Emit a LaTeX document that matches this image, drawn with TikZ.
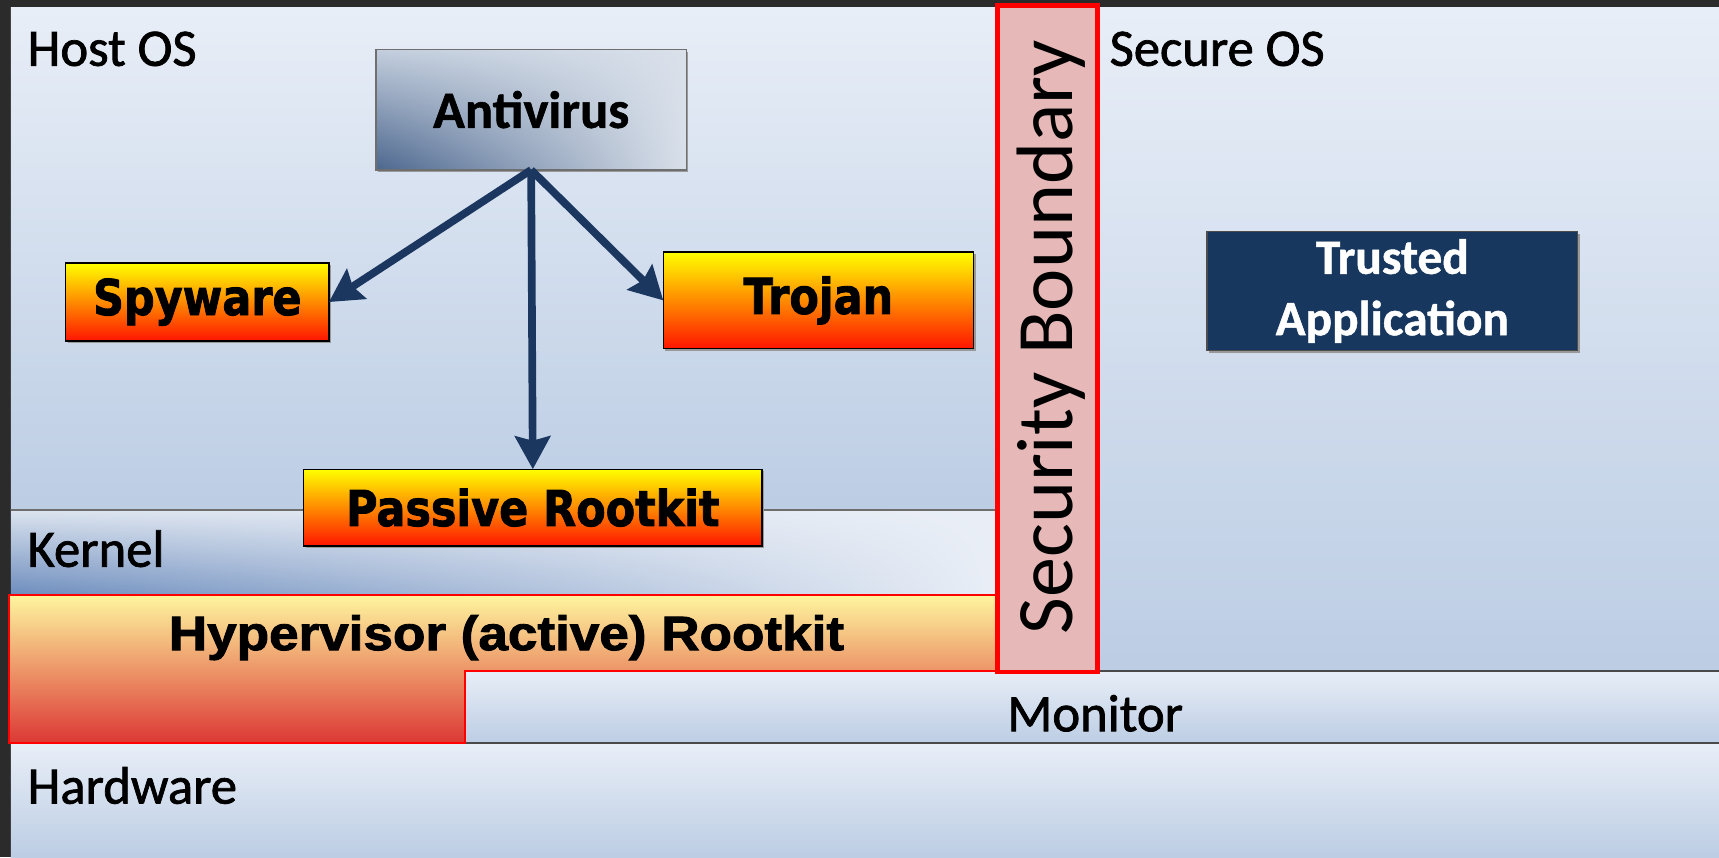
\documentclass[tikz,border=0pt]{standalone}
\usepackage{fontspec}
\setmainfont{Carlito}
\newfontfamily\labelfont{Carlito}[FakeBold=1.4]
\newfontfamily\strongfont{Carlito Bold}[FakeBold=1]
\newfontfamily\heavyfont{DejaVu Sans Bold}[FakeBold=1.8]
\newfontfamily\hyperfont{Liberation Sans Bold}[FakeBold=1.8]
\usetikzlibrary{arrows.meta,fadings}

\definecolor{frame}{HTML}{2B2B2B}
\definecolor{panelTop}{HTML}{E8EEF7}
\definecolor{panelBot}{HTML}{BCCDE4}
\definecolor{kernelTop}{HTML}{DCE4EF}
\definecolor{kernelBot}{HTML}{6C8CBD}
\definecolor{kernelLight}{HTML}{EAEFF7}
\definecolor{avTop}{HTML}{C4CFDE}
\definecolor{avBot}{HTML}{4C678E}
\definecolor{avLight}{HTML}{DAE1EB}
\definecolor{avBorder}{HTML}{6F6F6F}
\definecolor{hyTop}{HTML}{FEF59E}
\definecolor{hyMid}{HTML}{EEA56F}
\definecolor{hyBot}{HTML}{DC3734}
\definecolor{thTop}{HTML}{FFFF00}
\definecolor{thMid}{HTML}{FF8C00}
\definecolor{thBot}{HTML}{FF1500}
\definecolor{trust}{HTML}{17375E}
\definecolor{arrowblue}{HTML}{1B365F}
\definecolor{boundFill}{HTML}{E6B9B8}
\definecolor{sepLine}{HTML}{4A4A4A}

% light overlay that grows from transparent (left) to opaque (right)
\tikzfading[name=growright, left color=transparent!100, right color=transparent!0]

\begin{document}
\begin{tikzpicture}[x=1pt, y=-1pt,
  layerlabel/.style={font=\labelfont\fontsize{48}{58}\selectfont, inner sep=0pt, anchor=base west},
  threat/.style={draw=black, line width=1.2pt, inner sep=0pt, outer sep=0pt,
    top color=thTop, middle color=thMid, bottom color=thBot,
    font=\heavyfont\fontsize{45}{54}\selectfont},
  boxshadow/.style={fill=black!40},
  attack/.style={draw=arrowblue, line width=7pt,
    -{Stealth[length=30pt, width=32pt, inset=4pt]}},
  sepline/.style={draw=sepLine, line width=2pt},
]
\useasboundingbox (0,0) rectangle (1568,782);
\fill[frame] (0,0) rectangle (1568,782);

% Host OS and Secure OS panels
\shade[top color=panelTop, bottom color=panelBot] (10,7) rectangle (910,465);
\shade[top color=panelTop, bottom color=panelBot] (1001,7) rectangle (1568,612);

% kernel band: blue at the bottom left, fading to light on the right
\shade[top color=kernelTop, bottom color=kernelBot] (10,465) rectangle (910,543);
\fill[kernelLight, path fading=growright] (10,465) rectangle (910,543);

% monitor and hardware bands
\shade[top color=panelTop, bottom color=panelBot] (424,612) rectangle (1568,678);
\shade[top color=panelTop, bottom color=panelBot] (10,678) rectangle (1568,782);

% separators between layers
\draw[draw=sepLine!80, line width=1.5pt] (10,465) -- (910,465);
\draw[sepline] (424,612) -- (1568,612);
\draw[sepline] (10,678) -- (1568,678);

% hypervisor rootkit (L-shaped)
\path[top color=hyTop, middle color=hyMid, bottom color=hyBot, draw=red, line width=2pt]
  (8,543) -- (910,543) -- (910,612) -- (424,612) -- (424,678) -- (8,678) -- cycle;
\node[inner sep=0pt, anchor=base, font=\hyperfont\fontsize{44}{52}\selectfont]
  (hyper) at (462,593) {\scalebox{1.1}[1]{Hypervisor (active) Rootkit}};

% layer labels
\node[layerlabel] (hostos) at (25,60) {Host OS};
\node[layerlabel] (secureos) at (1012,60) {Secure OS};
\node[layerlabel] (kernel) at (25,517) {Kernel};
\node[layerlabel, anchor=base] (monitor) at (999,667) {Monitor};
\node[layerlabel] (hardware) at (25,733) {Hardware};

% security boundary
\draw[fill=boundFill, draw=red, line width=4pt] (910,5) rectangle (1001,613);
\node[rotate=90, anchor=base, inner sep=0pt, font=\fontsize{73}{80}\selectfont]
  (boundary) at (978,307.5) {Security Boundary};

% antivirus
\fill[boxshadow] (345,47) rectangle (628,157);
\shade[top color=avTop, bottom color=avBot] (343,45) rectangle (626,155);
\fill[avLight, path fading=growright] (343,45) rectangle (626,155);
\node[draw=avBorder, line width=1.2pt, minimum width=283pt, minimum height=110pt,
      inner sep=0pt, outer sep=0pt, font=\strongfont\fontsize{48}{56}\selectfont]
  (antivirus) at (484.5,100) {Antivirus};

% threats
\fill[boxshadow] (62,242) rectangle (302,313);
\fill[boxshadow] (607,232) rectangle (890,320);
\fill[boxshadow] (279,430) rectangle (697,500);
\node[threat, minimum width=240pt, minimum height=71pt] (spyware) at (180,275.5)
  {\scalebox{0.87}[1]{Spyware}};
\node[threat, minimum width=283pt, minimum height=88pt] (trojan) at (746.5,274)
  {\raisebox{4pt}{\scalebox{0.87}[1]{Trojan}}};
\node[threat, minimum width=418pt, minimum height=70pt] (passive) at (486,463)
  {\scalebox{0.87}[1]{Passive Rootkit}};

% trusted application
\fill[boxshadow] (1103,213) rectangle (1441,322);
\node[fill=trust, draw=black!70, line width=1pt, minimum width=338pt, minimum height=109pt,
      inner sep=0pt, text=white, align=center,
      font=\strongfont\fontsize{45}{56}\selectfont]
  (trusted) at (1270,265.5) {Trusted\\Application};

% scanning arrows
\draw[attack] (antivirus.south) -- (spyware.east);
\draw[attack] (antivirus.south) -- (trojan.west);
\draw[attack] (antivirus.south) -- (passive.north);
\end{tikzpicture}
\end{document}
